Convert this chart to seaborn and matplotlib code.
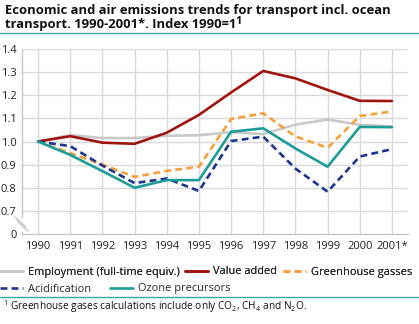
import matplotlib
matplotlib.use("Agg")
import matplotlib.pyplot as plt
import seaborn as sns
import numpy as np
import pandas as pd
from matplotlib.lines import Line2D

years = [1990, 1991, 1992, 1993, 1994, 1995, 1996, 1997, 1998, 1999, 2000, 2001]
year_labels = ["1990", "1991", "1992", "1993", "1994", "1995", "1996", "1997",
               "1998", "1999", "2000", "2001*"]
employment = [1.0, 1.028, 1.015, 1.015, 1.025, 1.027, 1.04, 1.032, 1.073, 1.095, 1.072, 1.065]
value_added = [1.0, 1.023, 0.995, 0.99, 1.038, 1.115, 1.212, 1.305, 1.273, 1.223, 1.176, 1.175]
greenhouse = [1.0, 0.95, 0.9, 0.847, 0.873, 0.891, 1.097, 1.122, 1.022, 0.973, 1.11, 1.13]
acidification = [1.0, 0.98, 0.896, 0.82, 0.84, 0.786, 1.002, 1.021, 0.883, 0.783, 0.935, 0.967]
ozone = [1.0, 0.942, 0.872, 0.8, 0.833, 0.833, 1.042, 1.057, 0.97, 0.891, 1.063, 1.062]

series_names = ["Employment (full-time equiv.)", "Value added", "Greenhouse gasses",
                "Acidification", "Ozone precursors"]
series_values = [employment, value_added, greenhouse, acidification, ozone]
colors = ["#c9c9c9", "#a0140f", "#f7a03c", "#1f358f", "#1e9d98"]
styles = ["-", "-", "--", "--", "-"]

yticks = [0.6, 0.7, 0.8, 0.9, 1.0, 1.1, 1.2, 1.3, 1.4]
ytick_labels = ["0", "0.7", "0.8", "0.9", "1.0", "1.1", "1.2", "1.3", "1.4"]

sns.set_style("white")
plt.rcParams['font.family'] = ['Open Sans', 'DejaVu Sans']
plt.rcParams['mathtext.fontset'] = 'custom'
plt.rcParams['mathtext.rm'] = 'Open Sans'
plt.rcParams['mathtext.bf'] = 'Open Sans:bold'

W, H = 419, 324
fig = plt.figure(figsize=(W / 100, H / 100), dpi=100)
ax = fig.add_axes([22 / W, 1 - 234 / H, (408 - 22) / W, (234 - 49) / H])

handles = []
for name, vals, c, ls in zip(series_names, series_values, colors, styles):
    df = pd.DataFrame({"year": years, "value": vals})
    sns.lineplot(data=df, x="year", y="value", ax=ax, color=c, linewidth=1.9,
                 linestyle=ls, label=name, legend=False)
    ln = ax.get_lines()[-1]
    if ls == "--":
        ln.set_dashes([2.6, 1.6])
    handles.append(ln)

ax.set_xlim(1989.5, 2001.5)
ax.set_ylim(0.6, 1.4)
ax.set_xticks(years)
ax.set_xticklabels(year_labels)
ax.set_yticks(yticks)
ax.set_yticklabels(ytick_labels)
ax.set_xlabel("")
ax.set_ylabel("")
ax.tick_params(axis="both", length=0, labelsize=8, colors="#222222")
ax.tick_params(axis="y", pad=4)
ax.tick_params(axis="x", pad=5)

for y in yticks[1:]:
    ax.axhline(y, color="#d9d9d9", linewidth=1, zorder=0)
for x in years:
    ax.axvline(x, color="#d9d9d9", linewidth=1, zorder=0)

for s in ["top", "right"]:
    ax.spines[s].set_visible(False)
for s in ["left", "bottom"]:
    ax.spines[s].set_color("#c8c8c8")
    ax.spines[s].set_linewidth(1)

def fx(px):
    return px / W

def fy(py):
    return 1 - py / H

# axis break marks
fig.add_artist(Line2D([fx(22), fx(22)], [fy(219), fy(230)], color="white", linewidth=2,
                      transform=fig.transFigure))
fig.add_artist(Line2D([fx(15), fx(26)], [fy(217), fy(227)], color="#c8c8c8", linewidth=1,
                      transform=fig.transFigure))
fig.add_artist(Line2D([fx(17), fx(28)], [fy(221), fy(231)], color="#c8c8c8", linewidth=1,
                      transform=fig.transFigure))

# title
fig.text(5 / W, fy(4), "Economic and air emissions trends for transport incl. ocean",
         ha="left", va="top", fontsize=9.4, fontweight="bold", color="#111111")
t2 = fig.text(5 / W, fy(18), "transport. 1990-2001*. Index 1990=1",
              ha="left", va="top", fontsize=9.4, fontweight="bold", color="#111111")
fig.canvas.draw()
bb = t2.get_window_extent()
fig.text((bb.x1 - 1) / W, bb.y1 / H + 2.5 / H, "1", ha="left", va="top",
         fontsize=7.8, fontweight="bold", color="#111111")
fig.add_artist(Line2D([0, 1], [fy(33), fy(33)], color="#3aa7a5", linewidth=1,
                      transform=fig.transFigure))

# legend
leg1 = fig.legend(handles=handles[:3], labels=series_names[:3], loc="center left",
                  bbox_to_anchor=(0, fy(272)), ncol=3, frameon=False, fontsize=7.9,
                  handlelength=2.1, handletextpad=0.45, columnspacing=0.5,
                  borderaxespad=0, borderpad=0)
leg2 = fig.legend(handles=handles[3:], labels=series_names[3:], loc="center left",
                  bbox_to_anchor=(0, fy(289)), ncol=2, frameon=False, fontsize=7.9,
                  handlelength=2.1, handletextpad=0.45, columnspacing=1.7,
                  borderaxespad=0, borderpad=0)
fig.add_artist(leg1)

fig.add_artist(Line2D([0, 1], [fy(297), fy(297)], color="#3aa7a5", linewidth=1,
                      transform=fig.transFigure))
fig.text(3 / W, fy(307),
         "$^1$ Greenhouse gases calculations include only CO$_2$, CH$_4$ and N$_2$O.",
         ha="left", va="center", fontsize=7.3, color="#111111")

fig.savefig("out.png", dpi=100)
